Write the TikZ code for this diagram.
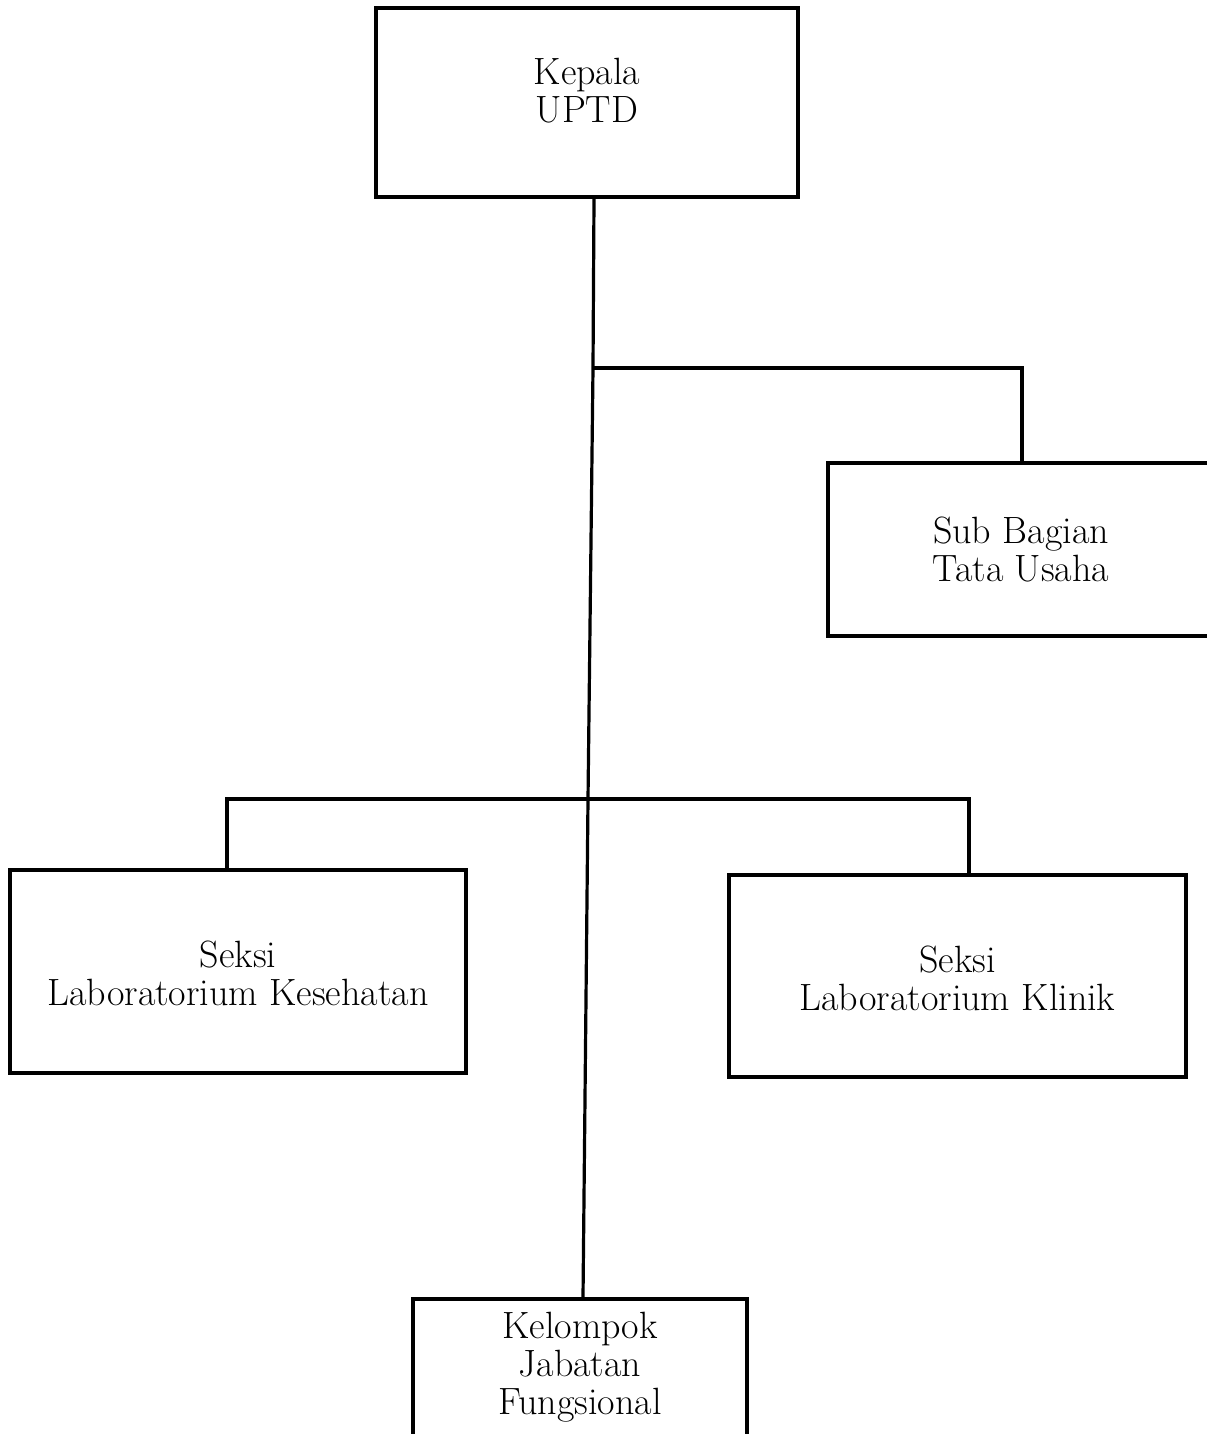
\documentclass[tikz,border=0pt]{standalone}
\begin{document}
\begin{tikzpicture}[x=0.75pt,y=-0.75pt,
  box/.style={draw=black,line width=2.4pt,inner sep=0pt},
  lbl/.style={align=center,font=\fontsize{28.5}{28.5}\selectfont},
  conn/.style={line width=2.4pt}]
\useasboundingbox (0,0) rectangle (1206,1434);
\node[box,minimum width=422*0.75pt,minimum height=189*0.75pt,
  label={[lbl,name=kepalaT,yshift=8.6pt]center:Kepala\\UPTD}] (kepala) at (587,102.5) {};
\node[box,minimum width=384*0.75pt,minimum height=173*0.75pt,
  label={[lbl,name=subT,xshift=0.75pt]center:Sub Bagian\\Tata Usaha}] (sub) at (1020,549.5) {};
\node[box,minimum width=456*0.75pt,minimum height=203*0.75pt,
  label={[lbl,name=kesT,yshift=-1.5pt]center:Seksi\\Laboratorium Kesehatan}] (kes) at (238,971.5) {};
\node[box,minimum width=457*0.75pt,minimum height=202*0.75pt,
  label={[lbl,name=kliT,yshift=-1.5pt]center:Seksi\\Laboratorium Klinik}] (kli) at (957.5,976) {};
\node[box,minimum width=334*0.75pt,minimum height=146*0.75pt,
  label={[lbl,name=kelT,yshift=3.75pt]center:Kelompok\\Jabatan\\Fungsional}] (kel) at (580,1372) {};
\coordinate (j1) at (593,368);
\coordinate (j2) at (588,799);
\draw[conn] ([xshift=5.25pt]kepala.south) -- (j1) -- (j2) -- ([xshift=2.25pt]kel.north);
\draw[conn] (j1) -- ([xshift=1.5pt]j1 -| sub.north) -- ([xshift=1.5pt]sub.north);
\draw[conn] ([xshift=-8.25pt]kes.north) -- ([xshift=-8.25pt]j2 -| kes.north)
  -- ([xshift=8.6pt]j2 -| kli.north) -- ([xshift=8.6pt]kli.north);
\end{tikzpicture}
\end{document}
